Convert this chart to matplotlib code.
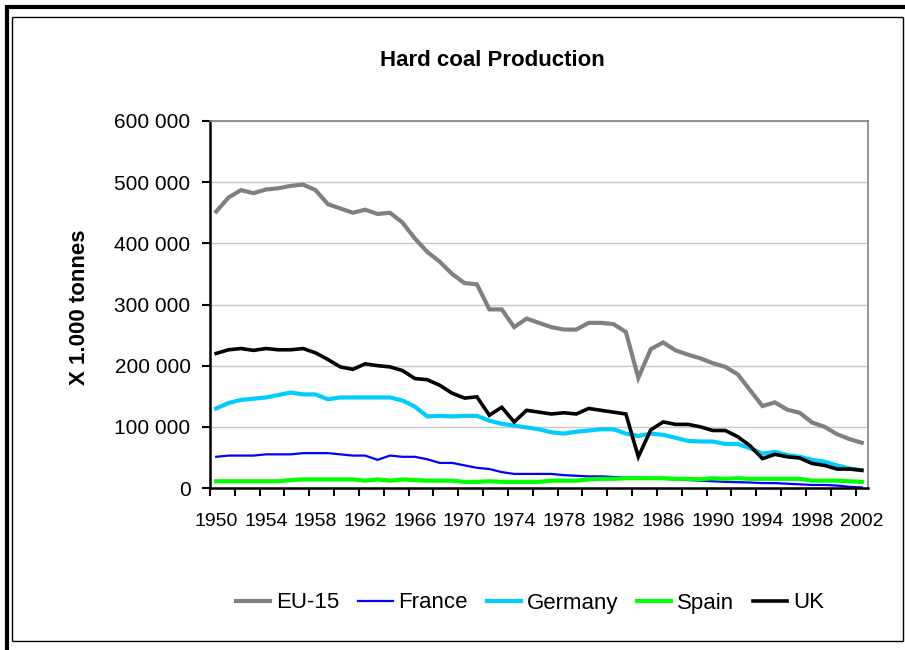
import matplotlib
matplotlib.use("Agg")
import matplotlib.pyplot as plt
from matplotlib.lines import Line2D
from matplotlib.ticker import FuncFormatter, MultipleLocator, FixedLocator
import numpy as np

years = list(range(1950, 2003))

eu15 = [452000, 475000, 487000, 482000, 488000, 490000, 494000, 496000, 487000, 464000,
        457000, 450000, 455000, 448000, 450000, 434000, 408000, 386000, 370000, 350000,
        335000, 333000, 292000, 292000, 263000, 277000, 270000, 263000, 259000, 259000,
        270000, 270000, 268000, 255000, 180000, 227000, 238000, 225000, 218000, 212000,
        204000, 198000, 186000, 160000, 134000, 140000, 128000, 123000, 107000, 100000,
        88000, 80000, 74000]
france = [51000, 53000, 53000, 53000, 55000, 55000, 55000, 57000, 57000, 57000,
          55000, 53000, 53000, 46000, 53000, 51000, 51000, 47000, 41000, 41000,
          37000, 33000, 31000, 26000, 23000, 23000, 23000, 23000, 21000, 20000,
          19000, 19000, 18000, 17000, 17000, 16000, 15000, 14000, 13000, 12000,
          11000, 10000, 9500, 9000, 8000, 8000, 7000, 6000, 5000, 5000,
          4000, 2000, 1000]
germany = [130000, 139000, 144000, 146000, 148000, 152000, 156000, 153000, 153000, 145000,
           148000, 148000, 148000, 148000, 148000, 143000, 133000, 117000, 118000, 117000,
           118000, 118000, 110000, 105000, 102000, 99000, 96000, 91000, 89000, 92000,
           94000, 96000, 96000, 89000, 85000, 89000, 87000, 82000, 77000, 76000,
           76000, 72000, 72000, 65000, 56000, 59000, 54000, 51000, 46000, 43000,
           37000, 32000, 29000]
spain = [11000, 11000, 11000, 11000, 11000, 11000, 13000, 14000, 14000, 14000,
         14000, 14000, 12000, 14000, 12000, 14000, 13000, 12000, 12000, 12000,
         10000, 10000, 11000, 10000, 10000, 10000, 10000, 12000, 12000, 12000,
         14000, 15000, 15000, 16000, 16000, 16000, 16000, 15000, 15000, 14000,
         16000, 15000, 16000, 15000, 15000, 15000, 15000, 15000, 12000, 12000,
         12000, 11000, 10000]
uk = [220000, 226000, 228000, 225000, 228000, 226000, 226000, 228000, 221000, 210000,
      198000, 194000, 203000, 200000, 198000, 192000, 179000, 177000, 168000, 155000,
      147000, 149000, 119000, 132000, 108000, 127000, 124000, 121000, 123000, 121000,
      130000, 127000, 124000, 121000, 51000, 95000, 108000, 104000, 104000, 100000,
      94000, 94000, 84000, 69000, 48000, 55000, 51000, 49000, 40000, 37000,
      31000, 31000, 29000]

series_names = ["EU-15", "France", "Germany", "Spain", "UK"]
series_data = [eu15, france, germany, spain, uk]
series_colors = ["#808080", "#0000FF", "#00CCFF", "#00FF00", "#000000"]
series_widths = [3.0, 1.6, 3.0, 3.0, 2.6]

title = "Hard coal Production"
ylabel = "X 1.000 tonnes"

W, H = 905, 650
fig = plt.figure(figsize=(W / 100, H / 100), dpi=100)
fig.patch.set_facecolor("white")
plt.rcParams['font.family'] = ['Liberation Sans', 'DejaVu Sans']

left, right, top, bottom = 210, 868, 121, 488
ax = fig.add_axes([left / W, (H - bottom) / H, (right - left) / W, (bottom - top) / H])

for name, data, c, lw in zip(series_names, series_data, series_colors, series_widths):
    ax.plot(years, data, color=c, lw=lw, label=name, solid_joinstyle="miter")

ax.set_xlim(1949.5, 2002.5)
ax.set_ylim(0, 600000)
ax.yaxis.set_major_locator(MultipleLocator(100000))
ax.yaxis.set_major_formatter(FuncFormatter(lambda v, p: f"{int(v):,}".replace(",", " ")))
ax.grid(axis="y", color="#C8C8C8", lw=1)
ax.set_axisbelow(True)

ax.xaxis.set_major_locator(FixedLocator(list(range(1950, 2003, 4))))
ax.xaxis.set_minor_locator(FixedLocator([1949.5 + 2 * k for k in range(27)]))
ax.tick_params(axis="x", which="major", length=0, labelsize=14, pad=18)
ax.tick_params(axis="x", which="minor", length=6, width=1.5, direction="out")
ax.tick_params(axis="y", which="major", length=6, width=1.5, direction="out", labelsize=15, pad=8)

for s in ["left", "bottom"]:
    ax.spines[s].set_color("black")
    ax.spines[s].set_linewidth(1.8)
for s in ["top", "right"]:
    ax.spines[s].set_color("#808080")
    ax.spines[s].set_linewidth(1.2)

fig.text(492 / W, (H - 61) / H, title, ha="center", va="center", fontsize=16, fontweight="bold")
fig.text(79 / W, (H - 307) / H, ylabel, ha="center", va="center", rotation=90,
         fontsize=16, fontweight="bold")

leg = fig.legend(loc="center", bbox_to_anchor=(530 / W, (H - 603) / H), ncol=5, frameon=False,
                 fontsize=16, handlelength=1.55, handletextpad=0.25, columnspacing=0.85)

# chart frame
def fl(x0, y0, x1, y1, lw, color="black"):
    fig.add_artist(Line2D([x0 / W, x1 / W], [(H - y0) / H, (H - y1) / H], lw=lw, color=color,
                          transform=fig.transFigure, solid_capstyle="butt"))

fl(5, 7, 905, 7, 3.0)
fl(7, 5, 7, 650, 3.0)
fl(12, 17, 903, 17, 1.0)
fl(12, 17, 12, 641, 1.0)
fl(903, 17, 903, 641, 1.0)
fl(12, 641, 903, 641, 1.0)

fig.savefig("out.png", dpi=100)
